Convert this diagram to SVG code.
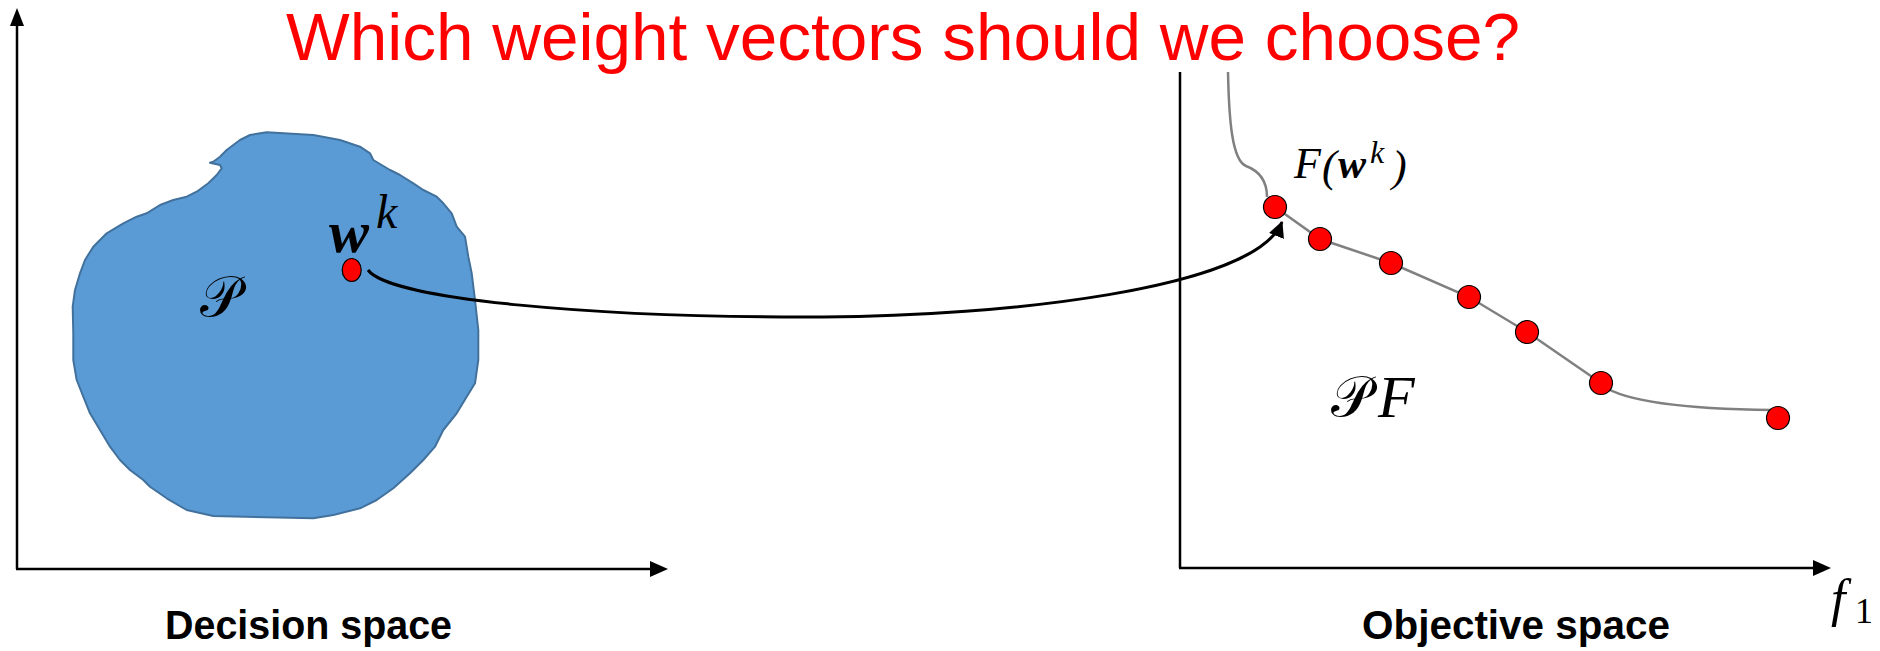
<svg xmlns="http://www.w3.org/2000/svg" width="1880" height="651" viewBox="0 0 1880 651">
<style>
.axis{stroke:#000;stroke-width:2.5;fill:none}
.head{fill:#000}
.title{font-family:"Liberation Sans",Arial,sans-serif;fill:#FF0000}
.lbl{font-family:"Liberation Sans",Arial,sans-serif;font-weight:bold;fill:#000}
.math{font-family:"Liberation Serif","Times New Roman",serif;font-style:italic;fill:#000}
.bw{font-weight:bold}
.cal{font-family:"DejaVu Serif","DejaVu Sans","Noto Sans",serif;fill:#000}
.pt{fill:#FF0000;stroke:#000;stroke-width:1.2}
.front{stroke:#808080;stroke-width:2.5;fill:none}
.conn{stroke:#000;stroke-width:3;fill:none}
</style>
<defs>
<marker id="arr" markerUnits="userSpaceOnUse" markerWidth="20" markerHeight="20" refX="15" refY="8" orient="auto">
<path d="M0,0 L16,8 L0,16 z" fill="#000"/>
</marker>
</defs>
<rect width="1880" height="651" fill="#fff"/>

<text id="title" class="title" x="286" y="60" font-size="66" textLength="1234" lengthAdjust="spacingAndGlyphs">Which weight vectors should we choose?</text>

<g id="decision-axes">
<line class="axis" x1="17" y1="569" x2="17" y2="22"/>
<polygon class="head" points="17,8 10,26 24,26"/>
<line class="axis" x1="16" y1="569" x2="654" y2="569"/>
<polygon class="head" points="668,569 650,561 650,577"/>
<text class="lbl" x="165" y="639" font-size="40" textLength="287" lengthAdjust="spacingAndGlyphs">Decision space</text>
</g>

<g id="feasible-set">
<polygon fill="#5B9BD5" stroke="#41719C" stroke-width="2" stroke-linejoin="round" points="210,162.7 220,165 221.7,168.3 216.7,175 208.3,183.3 196.7,191.7 186.7,196.7 173.3,200 160,205 146.7,213.3 136.7,216.7 123.3,223.3 106.7,233.3 93.3,246.7 85,260 80,273.3 75,290 72.7,306.7 73.3,333.3 73.3,360 76.7,380 83.3,396.7 90,413.3 100,430 110,446.7 120,460 130,470 143.3,480 150,486.7 166.7,498.3 186.7,510 213.3,516 313.3,518.3 333.3,515 360,508.3 376.7,500 393.3,488.3 410,473.3 423.3,460 435,446.7 443.3,430 456.7,413.3 466.7,396.7 475,383.3 478.3,360 478.3,330 475,300 471.7,273.3 468.3,256.7 465,236.7 456.7,226.7 451.7,213.3 443.3,203.3 436.7,196.7 423.3,190 413.3,183.3 400,175 390,170 373.3,160 370,153.3 360,146.7 340,140 313.3,135 266.7,132.3 250,135 240,140 233.3,145 226.7,150 220,156.7 213.3,161.7"/>
<text class="cal" x="200" y="316" font-size="56">𝒫</text>
</g>

<g id="wk">
<ellipse class="pt" cx="351.7" cy="270" rx="9.5" ry="11.5"/>
<text class="math" x="329" y="252" font-size="60"><tspan class="bw">w</tspan><tspan x="376" y="228" font-size="48">k</tspan></text>
</g>

<g id="objective-axes">
<line class="axis" x1="1180" y1="72" x2="1180" y2="568"/>
<line class="axis" x1="1179" y1="568" x2="1816" y2="568"/>
<polygon class="head" points="1831,568 1813,560 1813,576"/>
<text class="lbl" x="1362" y="639" font-size="40" textLength="308" lengthAdjust="spacingAndGlyphs">Objective space</text>
<text class="math" x="1831" y="616" font-size="52">f<tspan x="1855" y="623" font-size="36" font-style="normal">1</tspan></text>
</g>

<g id="pareto-front">
<path class="front" d="M1228,72 C1229,120 1232,160 1246,166 C1262,172 1267,185 1267,197"/>
<polyline class="front" points="1275,207 1320,239 1391,263 1469,297 1527,332 1601,383"/>
<path class="front" d="M1603,386 C1625,401 1680,409 1772,410"/>
<text class="cal" x="1331" y="416" font-size="56">𝒫</text>
<text class="math" x="1378" y="417" font-size="60">F</text>
</g>

<g id="connectors">
<path class="conn" marker-end="url(#arr)" d="M368,270 C390,300 600,318 823,317 C1000,316 1255,290 1282,222"/>
</g>

<g id="point-F1"><circle class="pt" cx="1275" cy="207" r="11.5"/>
<text class="math" x="1294" y="178" font-size="44">F</text>
<text class="math" x="1322" y="181" font-size="44" font-style="normal">(</text>
<text class="math bw" x="1338" y="178" font-size="42">w</text>
<text class="math" x="1370" y="163" font-size="32">k</text>
<text class="math" x="1392" y="181" font-size="44" font-style="normal">)</text>
</g>
<g id="point-2"><circle class="pt" cx="1320" cy="239" r="11.5"/></g>
<g id="point-3"><circle class="pt" cx="1391" cy="263" r="11.5"/></g>
<g id="point-4"><circle class="pt" cx="1469" cy="297" r="11.5"/></g>
<g id="point-5"><circle class="pt" cx="1527" cy="332" r="11.5"/></g>
<g id="point-6"><circle class="pt" cx="1601" cy="383" r="11.5"/></g>
<g id="point-7"><circle class="pt" cx="1778" cy="418" r="11.5"/></g>
</svg>
